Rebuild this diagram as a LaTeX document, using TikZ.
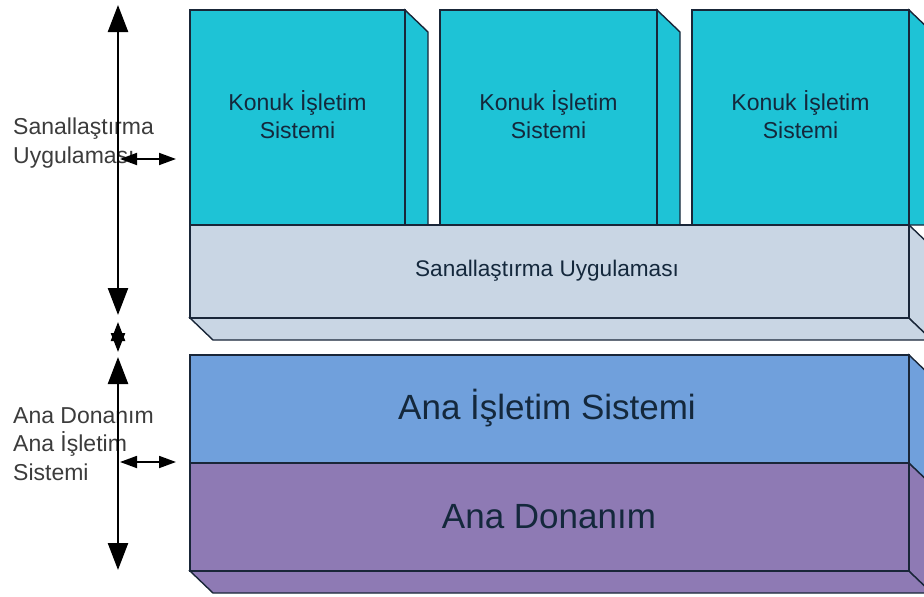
\documentclass[tikz,border=0pt]{standalone}
\usepackage{fontspec}
\setmainfont{Liberation Sans}
\usetikzlibrary{arrows.meta}
\definecolor{guestfill}{RGB}{30,195,214}
\definecolor{virtfill}{RGB}{201,214,228}
\definecolor{hostfill}{RGB}{112,160,220}
\definecolor{hwfill}{RGB}{142,122,180}
\definecolor{edgecol}{RGB}{25,38,56}
\definecolor{labelcol}{RGB}{60,60,60}
\definecolor{textcol}{RGB}{20,40,60}

\begin{document}
\begin{tikzpicture}[x=1pt,y=-1pt,
  face/.style={draw=edgecol,line width=1.4pt,line join=miter},
  guesttext/.style={align=center,text=textcol,font=\fontsize{23}{28}\selectfont,inner sep=0pt},
  bigtext/.style={text=textcol,font=\fontsize{35}{40}\selectfont,inner sep=0pt},
  sidelabel/.style={align=left,text=labelcol,font=\fontsize{23}{28.5}\selectfont,inner sep=0pt,anchor=base west},
  longarrow/.style={line width=2.4pt,{Triangle[length=27pt,width=20pt]}-{Triangle[length=27pt,width=20pt]}},
  tinyarrow/.style={line width=2.4pt,{Triangle[length=19pt,width=14pt]}-{Triangle[length=19pt,width=14pt]}},
  shortarrow/.style={line width=1.8pt,{Triangle[length=17pt,width=12pt]}-{Triangle[length=17pt,width=12pt]}}]
\useasboundingbox (0,0) rectangle (924,597);
\fill[white] (0,0) rectangle (924,597);

% side labels (drawn first, the arrows run over them); base = last line
\node[sidelabel] (lblvirt) at (13,163) {Sanallaştırma\\Uygulaması};
\node[sidelabel] (lblhost) at (13,480) {Ana Donanım\\Ana İşletim\\Sistemi};

\begin{scope}
\clip (0,0) rectangle (924,597);

% guest operating systems
\foreach \l/\r/\n in {190/405/g1,440/657/g2,692/909/g3}{
  \path[face,fill=guestfill] (\r,10) -- (\r+23,32) -- (\r+23,225) -- (\r,225) -- cycle;
  \path[face,fill=guestfill] (\l,10) rectangle (\r,225);
  \node[guesttext] (\n) at ({(\l+\r)/2},115) {Konuk İşletim\\Sistemi};
}

% virtualization layer
\path[face,fill=virtfill] (190,318) -- (909,318) -- (932,340) -- (213,340) -- cycle;
\path[face,fill=virtfill] (909,225) -- (932,247) -- (932,340) -- (909,318) -- cycle;
\path[face,fill=virtfill] (190,225) rectangle (909,318);
\node[guesttext,font=\fontsize{22.6}{27}\selectfont] (virt) at (547,271) {Sanallaştırma Uygulaması};

% host operating system and hardware
\path[face,fill=hwfill] (190,571) -- (909,571) -- (932,593) -- (213,593) -- cycle;
\path[face,fill=hwfill] (909,463) -- (932,485) -- (932,593) -- (909,571) -- cycle;
\path[face,fill=hostfill] (909,355) -- (932,377) -- (932,485) -- (909,463) -- cycle;
\path[face,fill=hostfill] (190,355) rectangle (909,463);
\path[face,fill=hwfill] (190,463) rectangle (909,571);
\node[bigtext] (host) at (547,408) {Ana İşletim Sistemi};
\node[bigtext] (hw) at (549,517) {Ana Donanım};
\end{scope}

% arrows
\coordinate (upA) at (118,5);
\coordinate (upB) at (118,315);
\coordinate (midA) at (118,322);
\coordinate (midB) at (118,352);
\coordinate (lowA) at (118,357);
\coordinate (lowB) at (118,570);
\coordinate (hv1) at (120,159);
\coordinate (hv2) at (176,159);
\coordinate (hh1) at (120,462);
\coordinate (hh2) at (176,462);
\draw[longarrow] (upA) -- (upB);
\draw[tinyarrow] (midA) -- (midB);
\draw[longarrow] (lowA) -- (lowB);
\draw[shortarrow] (hv1) -- (hv2);
\draw[shortarrow] (hh1) -- (hh2);
\end{tikzpicture}
\end{document}
